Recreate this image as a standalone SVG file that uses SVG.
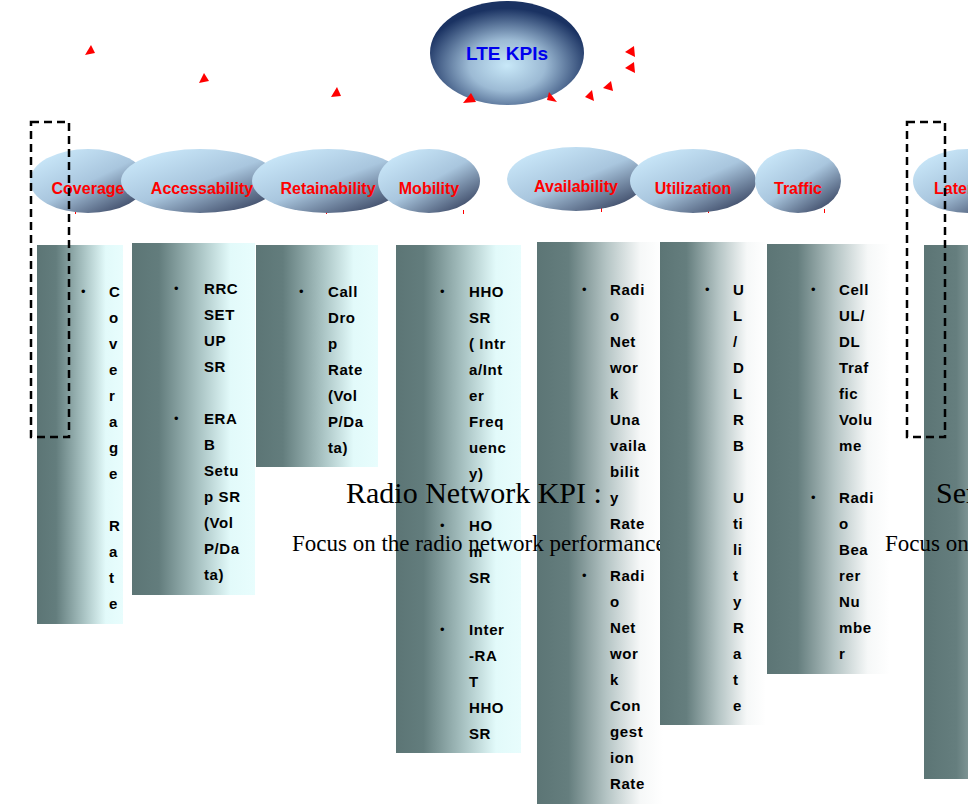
<svg xmlns="http://www.w3.org/2000/svg" width="968" height="805" viewBox="0 0 968 805">
<defs>
<radialGradient id="gMain" cx="0.5" cy="0.62" r="0.55">
<stop offset="0" stop-color="#c8e8f8"/>
<stop offset="0.45" stop-color="#9cbad4"/>
<stop offset="1" stop-color="#1a3262"/>
</radialGradient>
<linearGradient id="gSub" x1="0.15" y1="0.1" x2="0.95" y2="1">
<stop offset="0" stop-color="#c8e6f8"/>
<stop offset="0.45" stop-color="#a9c6de"/>
<stop offset="1" stop-color="#27304e"/>
</linearGradient>
<linearGradient id="gCyan" x1="0" y1="0" x2="1" y2="0">
<stop offset="0" stop-color="#5c7575"/>
<stop offset="0.22" stop-color="#637d7d"/>
<stop offset="0.55" stop-color="#aac4c4"/>
<stop offset="0.8" stop-color="#e2fafa"/>
<stop offset="1" stop-color="#e8fdfd"/>
</linearGradient>
<linearGradient id="gWhite" x1="0" y1="0" x2="1" y2="0">
<stop offset="0" stop-color="#5c7575"/>
<stop offset="0.25" stop-color="#657e7e"/>
<stop offset="0.55" stop-color="#b4c4c4"/>
<stop offset="0.82" stop-color="#f6f8f8"/>
<stop offset="1" stop-color="#ffffff"/>
</linearGradient>
</defs>
<style>
.sub{fill:url(#gSub)}
.lbl{font-family:"Liberation Sans",Arial,sans-serif;font-weight:bold;font-size:16px;fill:#ff0000;text-anchor:middle}
.col{font-family:"Liberation Sans",Arial,sans-serif;font-weight:bold;font-size:15px;fill:#000;letter-spacing:0.6px}
.bul{font-family:"Liberation Sans",Arial,sans-serif;font-size:13px;fill:#000}
.big{font-family:"Liberation Serif","Times New Roman",serif;font-size:30px;fill:#000}
.mid{font-family:"Liberation Serif","Times New Roman",serif;font-size:23px;fill:#000}
.arr{fill:#ff0000;stroke:none}
.tick{stroke:#ff0000;stroke-width:1}
.dash{fill:none;stroke:#000;stroke-width:2.5;stroke-dasharray:8,5}
</style>

<g id="lte-kpis">
<ellipse cx="507" cy="53" rx="77" ry="52" fill="url(#gMain)"/>
<text x="507" y="60" text-anchor="middle" style="font-family:'Liberation Sans',Arial,sans-serif;font-weight:bold;font-size:19px;fill:#0000ee">LTE KPIs</text>
</g>

<g id="connectors">
<polygon class="arr" points="85,55 95,53 91,45"/>
<polygon class="arr" points="199,83 209,81 204,73"/>
<polygon class="arr" points="331,97 341,96 337,87"/>
<polygon class="arr" points="463,103 476,102 471,93"/>
<polygon class="arr" points="547,100 557,102 549,92"/>
<polygon class="arr" points="585,97 594,101 592,90"/>
<polygon class="arr" points="603,88 613,91 611,81"/>
<polygon class="arr" points="625,52 634,46 635,57"/>
<polygon class="arr" points="625,68 634,62 635,73"/>
<line class="tick" x1="75.5" y1="210" x2="75.5" y2="214"/>
<line class="tick" x1="199.5" y1="209" x2="199.5" y2="213"/>
<line class="tick" x1="326.5" y1="210" x2="326.5" y2="214"/>
<line class="tick" x1="463.5" y1="210" x2="463.5" y2="214"/>
<line class="tick" x1="601.5" y1="208" x2="601.5" y2="212"/>
<line class="tick" x1="708.5" y1="209" x2="708.5" y2="213"/>
<line class="tick" x1="824.5" y1="209" x2="824.5" y2="213"/>
</g>

<g id="coverage">
<ellipse class="sub" cx="88" cy="181" rx="58" ry="32"/>
<text class="lbl" x="88" y="194">Coverage</text>
</g>
<g id="accessability">
<ellipse class="sub" cx="200" cy="181" rx="79" ry="32"/>
<text class="lbl" x="202" y="194">Accessability</text>
</g>
<g id="retainability">
<ellipse class="sub" cx="328" cy="181" rx="76" ry="32"/>
<text class="lbl" x="328" y="194">Retainability</text>
</g>
<g id="mobility">
<ellipse class="sub" cx="429" cy="181" rx="51" ry="32"/>
<text class="lbl" x="429" y="194">Mobility</text>
</g>
<g id="availability">
<ellipse class="sub" cx="576" cy="179" rx="69" ry="32"/>
<text class="lbl" x="576" y="192">Availability</text>
</g>
<g id="utilization">
<ellipse class="sub" cx="693" cy="181" rx="63" ry="32"/>
<text class="lbl" x="693" y="194">Utilization</text>
</g>
<g id="traffic">
<ellipse class="sub" cx="798" cy="181" rx="43" ry="32"/>
<text class="lbl" x="798" y="194">Traffic</text>
</g>
<g id="latency">
<ellipse class="sub" cx="968" cy="181" rx="55" ry="32"/>
<text class="lbl" x="934" y="194" style="text-anchor:start">Latency</text>
</g>

<g id="coverage-list">
<rect x="37" y="245" width="86" height="379" fill="url(#gCyan)"/>
<text class="bul" x="81" y="296">•</text>
<text class="col" x="109">
<tspan x="109" y="297">C</tspan><tspan x="109" y="323">o</tspan><tspan x="109" y="349">v</tspan><tspan x="109" y="375">e</tspan><tspan x="109" y="401">r</tspan><tspan x="109" y="427">a</tspan><tspan x="109" y="453">g</tspan><tspan x="109" y="479">e</tspan><tspan x="109" y="531">R</tspan><tspan x="109" y="557">a</tspan><tspan x="109" y="583">t</tspan><tspan x="109" y="609">e</tspan>
</text>
</g>

<g id="accessability-list">
<rect x="132" y="243" width="123" height="352" fill="url(#gCyan)"/>
<text class="bul" x="174" y="293">•</text>
<text class="bul" x="174" y="423">•</text>
<text class="col">
<tspan x="204" y="294">RRC</tspan><tspan x="204" y="320">SET</tspan><tspan x="204" y="346">UP</tspan><tspan x="204" y="372">SR</tspan><tspan x="204" y="424">ERA</tspan><tspan x="204" y="450">B</tspan><tspan x="204" y="476">Setu</tspan><tspan x="204" y="502">p SR</tspan><tspan x="204" y="528">(Vol</tspan><tspan x="204" y="554">P/Da</tspan><tspan x="204" y="580">ta)</tspan>
</text>
</g>

<g id="retainability-list">
<rect x="256" y="245" width="122" height="222" fill="url(#gCyan)"/>
<text class="bul" x="299" y="296">•</text>
<text class="col">
<tspan x="328" y="297">Call</tspan><tspan x="328" y="323">Dro</tspan><tspan x="328" y="349">p</tspan><tspan x="328" y="375">Rate</tspan><tspan x="328" y="401">(Vol</tspan><tspan x="328" y="427">P/Da</tspan><tspan x="328" y="453">ta)</tspan>
</text>
</g>

<g id="mobility-list">
<rect x="396" y="245" width="125" height="508" fill="url(#gCyan)"/>
<text class="bul" x="440" y="296">•</text>
<text class="bul" x="440" y="530">•</text>
<text class="bul" x="440" y="634">•</text>
<text class="col">
<tspan x="469" y="297">HHO</tspan><tspan x="469" y="323">SR</tspan><tspan x="469" y="349">( Intr</tspan><tspan x="469" y="375">a/Int</tspan><tspan x="469" y="401">er</tspan><tspan x="469" y="427">Freq</tspan><tspan x="469" y="453">uenc</tspan><tspan x="469" y="479">y)</tspan><tspan x="469" y="531">HO</tspan><tspan x="469" y="557">m</tspan><tspan x="469" y="583">SR</tspan><tspan x="469" y="635">Inter</tspan><tspan x="469" y="661">-RA</tspan><tspan x="469" y="687">T</tspan><tspan x="469" y="713">HHO</tspan><tspan x="469" y="739">SR</tspan>
</text>
</g>

<g id="availability-list">
<rect x="537" y="242" width="126" height="562" fill="url(#gWhite)"/>
<text class="bul" x="582" y="294">•</text>
<text class="bul" x="582" y="580">•</text>
<text class="col">
<tspan x="610" y="295">Radi</tspan><tspan x="610" y="321">o</tspan><tspan x="610" y="347">Net</tspan><tspan x="610" y="373">wor</tspan><tspan x="610" y="399">k</tspan><tspan x="610" y="425">Una</tspan><tspan x="610" y="451">vaila</tspan><tspan x="610" y="477">bilit</tspan><tspan x="610" y="503">y</tspan><tspan x="610" y="529">Rate</tspan><tspan x="610" y="581">Radi</tspan><tspan x="610" y="607">o</tspan><tspan x="610" y="633">Net</tspan><tspan x="610" y="659">wor</tspan><tspan x="610" y="685">k</tspan><tspan x="610" y="711">Con</tspan><tspan x="610" y="737">gest</tspan><tspan x="610" y="763">ion</tspan><tspan x="610" y="789">Rate</tspan>
</text>
</g>

<g id="radio-network-kpi">
<text class="big" x="346" y="503">Radio Network KPI :</text>
<text class="mid" x="292" y="551">Focus on the radio network performance</text>
</g>

<g id="utilization-list">
<rect x="660" y="242" width="106" height="483" fill="url(#gWhite)"/>
<text class="bul" x="705" y="294">•</text>
<text class="col">
<tspan x="733" y="295">U</tspan><tspan x="733" y="321">L</tspan><tspan x="733" y="347">/</tspan><tspan x="733" y="373">D</tspan><tspan x="733" y="399">L</tspan><tspan x="733" y="425">R</tspan><tspan x="733" y="451">B</tspan><tspan x="733" y="503">U</tspan><tspan x="733" y="529">ti</tspan><tspan x="733" y="555">li</tspan><tspan x="733" y="581">t</tspan><tspan x="733" y="607">y</tspan><tspan x="733" y="633">R</tspan><tspan x="733" y="659">a</tspan><tspan x="733" y="685">t</tspan><tspan x="733" y="711">e</tspan>
</text>
</g>

<g id="traffic-list">
<rect x="767" y="244" width="123" height="430" fill="url(#gWhite)"/>
<text class="bul" x="811" y="294">•</text>
<text class="bul" x="811" y="502">•</text>
<text class="col">
<tspan x="839" y="295">Cell</tspan><tspan x="839" y="321">UL/</tspan><tspan x="839" y="347">DL</tspan><tspan x="839" y="373">Traf</tspan><tspan x="839" y="399">fic</tspan><tspan x="839" y="425">Volu</tspan><tspan x="839" y="451">me</tspan><tspan x="839" y="503">Radi</tspan><tspan x="839" y="529">o</tspan><tspan x="839" y="555">Bea</tspan><tspan x="839" y="581">rer</tspan><tspan x="839" y="607">Nu</tspan><tspan x="839" y="633">mbe</tspan><tspan x="839" y="659">r</tspan>
</text>
</g>

<g id="latency-list">
<rect x="924" y="245" width="130" height="534" fill="url(#gWhite)"/>
</g>

<g id="service-kpi">
<text class="big" x="936" y="503">Service KPI :</text>
<text class="mid" x="885" y="551">Focus on the service performance</text>
</g>

<g id="highlight-boxes">
<rect class="dash" x="31" y="122" width="38" height="315"/>
<rect class="dash" x="907" y="122" width="38" height="315"/>
</g>
</svg>
